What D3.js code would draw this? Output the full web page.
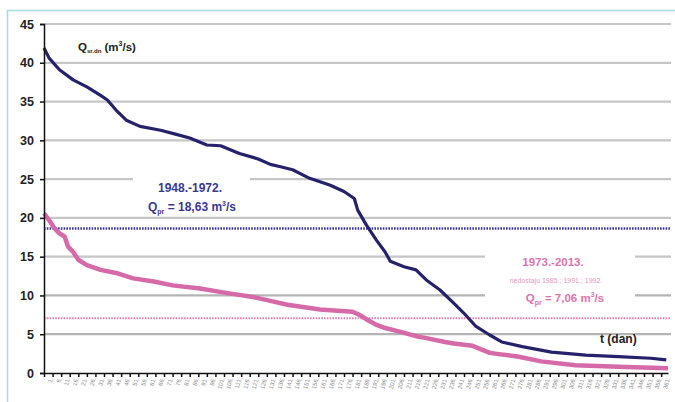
<!DOCTYPE html>
<html>
<head>
<meta charset="utf-8">
<script src="https://cdn.jsdelivr.net/npm/d3@7"></script>
<style>
  body { margin: 0; background: #fff; }
  svg { display: block; font-family: "Liberation Sans", Arial, sans-serif; }
</style>
</head>
<body>
<div id="root"></div>
<script>
// duration curve 1948.-1972. (day, Q m3/s)
const daysA = [1, 4, 10, 18, 26, 34, 38, 43, 49, 57, 69, 76, 86, 96, 104, 115, 126, 133, 139, 146, 156, 168, 176, 182, 184, 189, 195, 200, 203, 211, 218, 224, 232, 240, 246, 253, 261, 268, 280, 297, 317, 336, 355, 364];
const flowA = [41.9, 40.6, 39.1, 37.8, 36.9, 35.8, 35.2, 33.9, 32.6, 31.8, 31.3, 30.9, 30.3, 29.4, 29.3, 28.3, 27.6, 26.9, 26.6, 26.2, 25.1, 24.2, 23.4, 22.5, 21.0, 19.1, 17.1, 15.6, 14.4, 13.7, 13.3, 12.0, 10.7, 9.0, 7.7, 6.0, 4.9, 4.0, 3.4, 2.7, 2.3, 2.1, 1.9, 1.7];
// duration curve 1973.-2013.
const daysB = [1, 4, 7, 10, 13, 15, 18, 21, 26, 34, 43, 53, 65, 76, 92, 108, 123, 133, 143, 162, 181, 185, 190, 195, 200, 209, 219, 224, 235, 240, 251, 261, 264, 278, 291, 311, 336, 365];
const flowB = [20.6, 19.7, 18.7, 18.0, 17.6, 16.3, 15.6, 14.6, 13.9, 13.3, 12.9, 12.2, 11.8, 11.3, 10.9, 10.3, 9.8, 9.3, 8.8, 8.2, 7.9, 7.5, 6.8, 6.2, 5.8, 5.3, 4.7, 4.5, 4.0, 3.8, 3.5, 2.6, 2.5, 2.1, 1.5, 1.0, 0.8, 0.6];
const meanA = 18.63;
const meanB = 7.06;
const yTicks = [0, 5, 10, 15, 20, 25, 30, 35, 40, 45];
const xTickDays = d3.range(1, 366, 5);

const width = 675, height = 402;
const margin = {top: 24, right: 7, bottom: 29, left: 44};
const blue = "#25216b", pink = "#d66aa9";

const svg = d3.select("#root").append("svg").attr("width", width).attr("height", height);

// outer frame
svg.append("rect").attr("x", 7.5).attr("y", 10.5).attr("width", 700).attr("height", 400)
  .attr("fill", "none").attr("stroke", "#a8dbe2").attr("stroke-width", 1.5);

const x = d3.scaleLinear().domain([1, 365]).range([margin.left, width - margin.right]);
const y = d3.scaleLinear().domain([0, 45]).range([height - margin.bottom, margin.top]);

// gridlines
svg.append("g").selectAll("line").data(yTicks.slice(1)).enter().append("line")
  .attr("x1", margin.left).attr("x2", 671)
  .attr("y1", d => y(d)).attr("y2", d => y(d))
  .attr("stroke", d => d <= 10 ? "#b4b4b4" : "#c6c6c6").attr("stroke-width", 2.2);

// mean lines
svg.append("line").attr("x1", margin.left).attr("x2", 671).attr("y1", y(meanA)).attr("y2", y(meanA))
  .attr("stroke", "#3c3896").attr("stroke-width", 2.5).attr("stroke-dasharray", "1.6,1.2");
svg.append("line").attr("x1", margin.left).attr("x2", 671).attr("y1", y(meanB)).attr("y2", y(meanB))
  .attr("stroke", "#e283b9").attr("stroke-width", 2).attr("stroke-dasharray", "1.6,1.2");

// label boxes hide the gridlines behind the text
svg.append("rect").attr("x", 133).attr("y", 175).attr("width", 117).attr("height", 38).attr("fill", "#fff");
svg.append("rect").attr("x", 485).attr("y", 250).attr("width", 150).attr("height", 54).attr("fill", "#fff");

const line = d3.line().x(d => x(d[0])).y(d => y(d[1])).curve(d3.curveLinear);

svg.append("path").datum(daysB.map((d, i) => [d, flowB[i]]))
  .attr("d", line).attr("fill", "none").attr("stroke", pink).attr("stroke-width", 4.5)
  .attr("stroke-linejoin", "round");
svg.append("path").datum(daysA.map((d, i) => [d, flowA[i]]))
  .attr("d", line).attr("fill", "none").attr("stroke", blue).attr("stroke-width", 3.2)
  .attr("stroke-linejoin", "round");

// axes
const yAxis = svg.append("g").attr("transform", `translate(${margin.left},0)`)
  .call(d3.axisLeft(y).tickValues(yTicks).tickSize(4).tickPadding(6));
yAxis.selectAll("text").attr("font-size", 12.5).attr("font-weight", "bold").attr("fill", "#222");
yAxis.selectAll("path, line").attr("stroke", "#111").attr("stroke-width", 1.5);

const xAxis = svg.append("g").attr("transform", `translate(0,${height - margin.bottom})`)
  .call(d3.axisBottom(x).tickValues(xTickDays).tickSize(4).tickSizeOuter(0).tickFormat(d => d + "."));
xAxis.selectAll("path, line").attr("stroke", "#111").attr("stroke-width", 1.5);
xAxis.selectAll("text").attr("font-size", 6).attr("fill", "#8c8c8c")
  .attr("text-anchor", "end").attr("dy", "0.3em")
  .attr("transform", "translate(0,3) rotate(-75)");

// texts
const qLabel = svg.append("text").attr("x", 78).attr("y", 51).attr("font-size", 11.5)
  .attr("font-weight", "bold").attr("fill", "#222");
qLabel.append("tspan").text("Q");
qLabel.append("tspan").attr("font-size", 6).attr("dy", 2).text("sr.dn");
qLabel.append("tspan").attr("dy", -2).text(" (m");
qLabel.append("tspan").attr("font-size", 7).attr("dy", -5).text("3");
qLabel.append("tspan").attr("dy", 5).text("/s)");

svg.append("text").attr("x", 190).attr("y", 192).attr("text-anchor", "middle")
  .attr("font-size", 12).attr("font-weight", "bold").attr("fill", "#3b3791").text("1948.-1972.");
const qa = svg.append("text").attr("x", 192).attr("y", 211).attr("text-anchor", "middle")
  .attr("font-size", 12).attr("font-weight", "bold").attr("fill", "#3b3791");
qa.append("tspan").text("Q");
qa.append("tspan").attr("font-size", 7).attr("dy", 3).text("pr");
qa.append("tspan").attr("dy", -3).text(" = 18,63 m");
qa.append("tspan").attr("font-size", 7).attr("dy", -5).text("3");
qa.append("tspan").attr("dy", 5).text("/s");

svg.append("text").attr("x", 553).attr("y", 266).attr("text-anchor", "middle")
  .attr("font-size", 11.5).attr("font-weight", "bold").attr("fill", "#dc74ae").text("1973.-2013.");
svg.append("text").attr("x", 556).attr("y", 283).attr("text-anchor", "middle")
  .attr("font-size", 7).attr("fill", "#e796c3").text("nedostaju 1985.; 1991.; 1992.");
const qb = svg.append("text").attr("x", 565).attr("y", 302).attr("text-anchor", "middle")
  .attr("font-size", 11.5).attr("font-weight", "bold").attr("fill", "#dc74ae");
qb.append("tspan").text("Q");
qb.append("tspan").attr("font-size", 7).attr("dy", 3).text("pr");
qb.append("tspan").attr("dy", -3).text(" = 7,06 m");
qb.append("tspan").attr("font-size", 7).attr("dy", -5).text("3");
qb.append("tspan").attr("dy", 5).text("/s");

svg.append("text").attr("x", 600).attr("y", 343).attr("font-size", 12)
  .attr("font-weight", "bold").attr("fill", "#222").text("t (dan)");
</script>
</body>
</html>
